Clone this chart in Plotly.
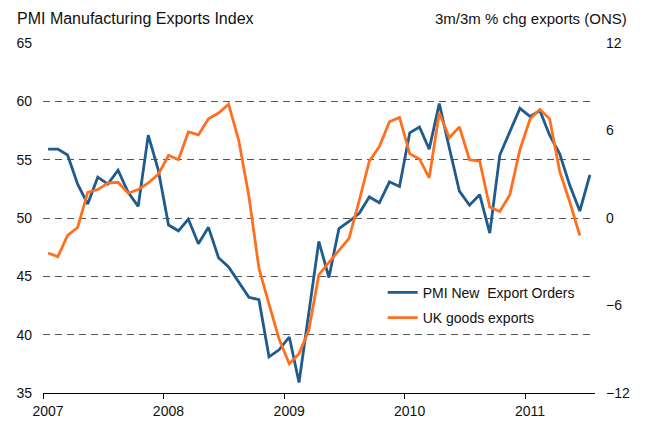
import pandas as pd
import plotly.graph_objects as go

# Monthly categories Jan 2007 - Jul 2011
months = [d.strftime("%Y-%m-%d") for d in pd.date_range("2007-01-01", "2011-07-01", freq="MS")]

pmi_export_orders = [
    55.9, 55.9, 55.4, 52.9, 51.2, 53.5, 52.9, 54.1, 52.2, 51.0, 57.1, 54.1,
    49.4, 48.9, 49.9, 47.8, 49.2, 46.6, 45.8, 44.5, 43.2, 43.0, 38.1, 38.7,
    39.8, 35.9, 42.0, 48.0, 44.9, 49.1, 49.7, 50.4, 51.8, 51.3, 53.1, 52.7,
    57.3, 57.8, 55.9, 59.8, 56.0, 52.3, 51.1, 52.0, 48.7, 55.4, 57.4, 59.4,
    58.7, 59.2, 57.1, 55.5, 52.8, 50.6, 53.7,
]

uk_goods_exports = [
    -2.4, -2.65, -1.2, -0.65, 1.75, 1.95, 2.4, 2.45, 1.7, 1.95, 2.4, 3.0,
    4.3, 4.0, 5.9, 5.7, 6.8, 7.2, 7.8, 5.3, 1.5, -3.45, -5.9, -8.3,
    -10.0, -9.3, -7.7, -3.9, -3.05, -2.2, -1.4, 1.2, 3.9, 4.9, 6.6, 6.9,
    4.4, 4.05, 2.75, 7.2, 5.5, 6.25, 4.0, 3.9, 0.75, 0.45, 1.6, 4.7,
    6.8, 7.45, 6.8, 3.2, 1.1, -1.2,
]

year_ticks = ["2007-01-01", "2008-01-01", "2009-01-01", "2010-01-01", "2011-01-01"]
year_labels = ["2007", "2008", "2009", "2010", "2011"]
left_ticks = [35, 40, 45, 50, 55, 60, 65]
right_ticks = [-12, -6, 0, 6, 12]

FONT = "Liberation Sans, Arial, sans-serif"
BLUE = "#1F5B8D"
ORANGE = "#FF6F20"
TXT = "#111111"

PLOT_L, PLOT_R, PLOT_T, PLOT_B = 43, 595.5, 43, 393.3
PW, PH = PLOT_R - PLOT_L, PLOT_B - PLOT_T

fig = go.Figure()
fig.add_trace(go.Scatter(
    x=months[:len(pmi_export_orders)], y=pmi_export_orders,
    name="PMI New\u00a0 Export Orders", mode="lines",
    line=dict(color=BLUE, width=2.8),
    xperiod="M1", xperiodalignment="middle",
    legendgroup="a",
))
fig.add_trace(go.Scatter(
    x=months[:len(uk_goods_exports)], y=uk_goods_exports,
    name="UK goods exports", mode="lines",
    line=dict(color=ORANGE, width=2.8),
    xperiod="M1", xperiodalignment="middle",
    yaxis="y2", legendgroup="b",
))

fig.update_layout(
    width=645, height=423, autosize=False,
    margin=dict(l=PLOT_L, r=645 - PLOT_R, t=PLOT_T, b=423 - PLOT_B, pad=0),
    paper_bgcolor="white", plot_bgcolor="white",
    font=dict(family=FONT, size=14, color=TXT),
    showlegend=True,
    legend=dict(
        x=(383 - PLOT_L) / PW, y=(PLOT_B - 277) / PH,
        xanchor="left", yanchor="top",
        bgcolor="rgba(0,0,0,0)", borderwidth=0,
        font=dict(family=FONT, size=14, color=TXT),
        tracegroupgap=4,
    ),
    xaxis=dict(
        type="date", automargin=False,
        range=["2007-01-01", "2011-08-01"],
        tickvals=year_ticks, ticktext=year_labels,
        ticks="outside", ticklen=5, tickcolor="black", tickwidth=1,
        ticklabelshift=5,
        showgrid=False, zeroline=False,
        showline=True, linecolor="black", linewidth=1,
        tickfont=dict(family=FONT, size=14, color=TXT),
    ),
    yaxis=dict(
        range=[35, 65], tickvals=left_ticks, automargin=False,
        showgrid=True, gridcolor="#555555", gridwidth=1, griddash="7px,5px",
        zeroline=False, showline=False, ticks="",
        ticklabelstandoff=10,
        tickfont=dict(family=FONT, size=14, color=TXT),
    ),
    yaxis2=dict(
        range=[-12, 12], tickvals=right_ticks, automargin=False,
        overlaying="y", side="right",
        showgrid=False, zeroline=False, showline=False, ticks="",
        ticklabelstandoff=10,
        tickfont=dict(family=FONT, size=14, color=TXT),
    ),
    annotations=[
        dict(text="PMI Manufacturing Exports Index", xref="paper", yref="paper",
             x=(15 - PLOT_L) / PW, y=(PLOT_B - 18) / PH,
             xanchor="left", yanchor="middle", showarrow=False,
             font=dict(family=FONT, size=16, color=TXT)),
        dict(text="3m/3m % chg exports (ONS)", xref="paper", yref="paper",
             x=(630 - PLOT_L) / PW, y=(PLOT_B - 18) / PH,
             xanchor="right", yanchor="middle", showarrow=False,
             font=dict(family=FONT, size=15, color=TXT)),
    ],
)

fig.write_html("out.html")
